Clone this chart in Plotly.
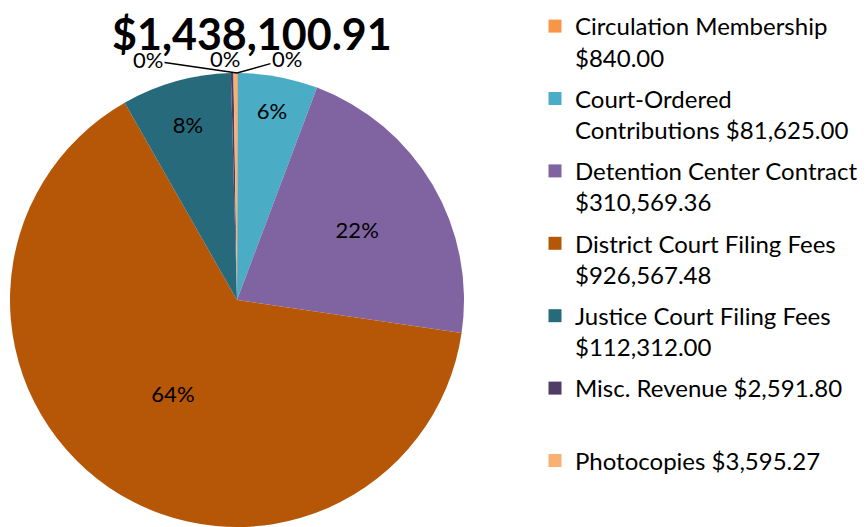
import plotly.graph_objects as go

categories = [
    "Circulation Membership",
    "Court-Ordered<br>Contributions",
    "Detention Center Contract",
    "District Court Filing Fees",
    "Justice Court Filing Fees",
    "Misc. Revenue",
    "Photocopies",
]
amounts = [840.00, 81625.00, 310569.36, 926567.48, 112312.00, 2591.80, 3595.27]
# how the amount is joined to the name in the legend
joins = ["<br>", " ", "<br>", "<br>", "<br>", " ", " "]
colors = ["#F79646", "#4BACC6", "#8064A2", "#B65708", "#276A7C", "#4F3D66", "#F9B074"]

font_family = "Lato, 'Open Sans', sans-serif"
W, H = 868, 527
off = 8  # page body margin shifts the figure by 8px

total = sum(amounts)
shares = [a / total for a in amounts]

legend_labels = []
for name, amt, j in zip(categories, amounts, joins):
    legend_labels.append("{}{}${:,.2f}".format(name, j, amt))
# misc gets the same two-line slot as the others
legend_labels[5] += "<br>&#160;"

# big slices get their label inside, tiny ones get callouts
textpos = ["inside" if s >= 0.01 else "none" for s in shares]

# pie geometry (figure pixels)
cx, cy, r = 237 - off, 300 - off, 227

fig = go.Figure()
fig.add_trace(go.Pie(
    labels=legend_labels,
    values=amounts,
    marker=dict(colors=colors, line=dict(width=0)),
    sort=False,
    direction="clockwise",
    rotation=0,
    texttemplate="%{percent:.0%}",
    textposition=textpos,
    insidetextorientation="horizontal",
    textfont=dict(family=font_family, size=22, color="black"),
    hoverinfo="label+value+percent",
    showlegend=False,
    domain=dict(x=[(cx - r) / W, (cx + r) / W], y=[(H - cy - r) / H, (H - cy + r) / H]),
))

# legend entries (one group each so the spacing can be set)
for i, (lab, col) in enumerate(zip(legend_labels, colors)):
    fig.add_trace(go.Scatter(
        x=[None], y=[None],
        mode="markers",
        name=lab,
        marker=dict(symbol="square", size=13, color=col),
        legendgroup="g{}".format(i),
        hoverinfo="skip",
    ))

# callouts for the tiny slices (misc, photocopies, circulation)
tip_x = cx / W
tip_y = (H - cy + r) / H
small = [i for i, s in enumerate(shares) if s < 0.01]
offsets = {5: (-89, -13), 6: (-12, -14), 0: (50, -14)}
for i in small:
    ax, ay = offsets[i]
    fig.add_annotation(
        x=tip_x, y=tip_y, xref="paper", yref="paper",
        text="{:.0%}".format(shares[i]),
        showarrow=True,
        arrowhead=0, arrowwidth=1.5, arrowcolor="black",
        ax=ax, ay=ay,
        font=dict(family=font_family, size=22, color="black"),
    )

fig.add_annotation(
    x=(252 - off) / W, y=1 - (33 - off) / H, xref="paper", yref="paper",
    xanchor="center", yanchor="middle",
    text="<b>${:,.2f}</b>".format(total),
    showarrow=False,
    font=dict(family=font_family, size=43, color="black"),
)

fig.update_layout(
    width=W,
    height=H,
    margin=dict(l=0, r=0, t=0, b=0, autoexpand=False),
    paper_bgcolor="white",
    plot_bgcolor="white",
    showlegend=True,
    xaxis=dict(visible=False),
    yaxis=dict(visible=False),
    legend=dict(
        x=(536 - 9) / W, y=1 + 4 / H, xanchor="left", yanchor="top",
        valign="top",
        tracegroupgap=7,
        maxheight=600,
        font=dict(family=font_family, size=24, color="black"),
        bgcolor="rgba(0,0,0,0)",
    ),
)

fig.write_html("out.html")
